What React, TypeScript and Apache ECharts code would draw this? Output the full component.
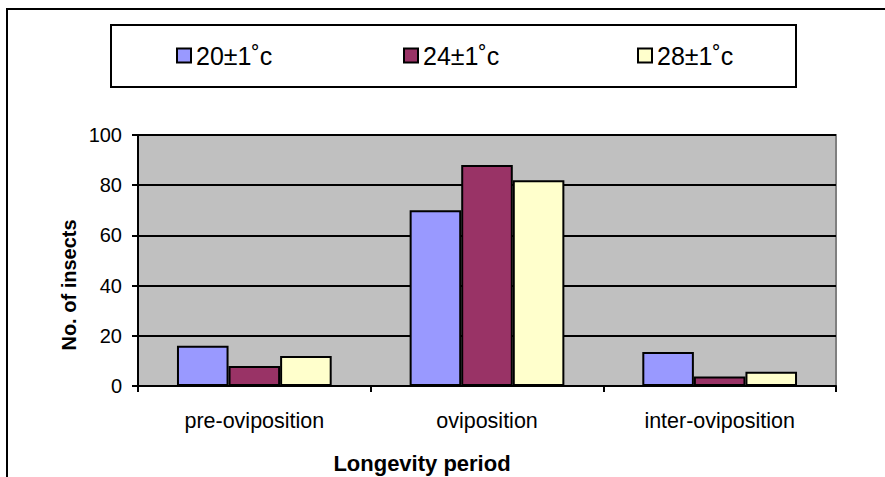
import React, { useEffect, useRef } from "react";
import * as echarts from "echarts";

const categories = ["pre-oviposition", "oviposition", "inter-oviposition"];
const seriesNames = ["20±1˚c", "24±1˚c", "28±1˚c"];
const values20 = [16, 70, 13.5];
const values24 = [8, 88, 3.8];
const values28 = [12, 82, 5.7];
const colors = ["#9999FF", "#993366", "#FFFFCC"];
const yTicks = { min: 0, max: 100, interval: 20 };
const xTitle = "Longevity period";
const yTitle = "No. of insects";

const FONT = "Liberation Sans, Arial, sans-serif";

export default function App() {
  const ref = useRef<HTMLDivElement>(null);
  useEffect(() => {
    if (!ref.current) return;
    const chart = echarts.init(ref.current, undefined, { renderer: "svg" });
    const seriesData = [values20, values24, values28];
    const legendLefts = [176, 403, 637];
    chart.setOption({
      animation: false,
      backgroundColor: "#ffffff",
      textStyle: { fontFamily: FONT },
      graphic: [
        {
          type: "rect",
          shape: { x: 7, y: 9, width: 900, height: 500 },
          style: { fill: "none", stroke: "#000", lineWidth: 2 },
          silent: true,
        },
        {
          type: "rect",
          shape: { x: 111, y: 25, width: 685, height: 62 },
          style: { fill: "none", stroke: "#000", lineWidth: 2 },
          silent: true,
        },
        {
          type: "text",
          x: 422,
          y: 463,
          style: {
            text: xTitle,
            fontSize: 22,
            fontWeight: "bold",
            fontFamily: FONT,
            fill: "#000",
            align: "center",
            verticalAlign: "middle",
          },
          silent: true,
        },
        {
          type: "text",
          x: 69,
          y: 285,
          rotation: Math.PI / 2,
          style: {
            text: yTitle,
            fontSize: 20,
            fontWeight: "bold",
            fontFamily: FONT,
            fill: "#000",
            align: "center",
            verticalAlign: "middle",
          },
          silent: true,
        },
      ],
      legend: seriesNames.map((n, i) => ({
        data: [n],
        left: legendLefts[i],
        top: 43,
        padding: 0,
        itemWidth: 14,
        itemHeight: 14,
        icon: "rect",
        textStyle: { fontSize: 25, color: "#000", fontFamily: FONT },
        selectedMode: false,
      })),
      grid: {
        left: 138,
        right: 49,
        top: 135,
        bottom: 91,
        show: true,
        backgroundColor: "#C0C0C0",
        borderColor: "#808080",
        borderWidth: 2,
      },
      xAxis: {
        type: "category",
        data: categories,
        axisLine: { lineStyle: { color: "#000", width: 2 } },
        axisTick: { show: true, length: 6, lineStyle: { color: "#000", width: 2 } },
        axisLabel: { fontSize: 21.5, color: "#000", margin: 24, fontFamily: FONT },
      },
      yAxis: {
        type: "value",
        min: yTicks.min,
        max: yTicks.max,
        interval: yTicks.interval,
        axisLine: { show: true, lineStyle: { color: "#000", width: 2 } },
        axisTick: { show: true, length: 6, lineStyle: { color: "#000", width: 2 } },
        axisLabel: { fontSize: 20, color: "#000", margin: 16, fontFamily: FONT },
        splitLine: { show: true, lineStyle: { color: "#000", width: 2 } },
      },
      series: seriesNames.map((n, i) => ({
        name: n,
        type: "bar",
        data: seriesData[i],
        barGap: "0%",
        barCategoryGap: "33.5%",
        itemStyle: { color: colors[i], borderColor: "#000", borderWidth: 2 },
      })),
    });
    return () => chart.dispose();
  }, []);
  return (
    <div
      ref={ref}
      style={{ position: "absolute", left: 0, top: 0, width: 885, height: 477 }}
    />
  );
}
